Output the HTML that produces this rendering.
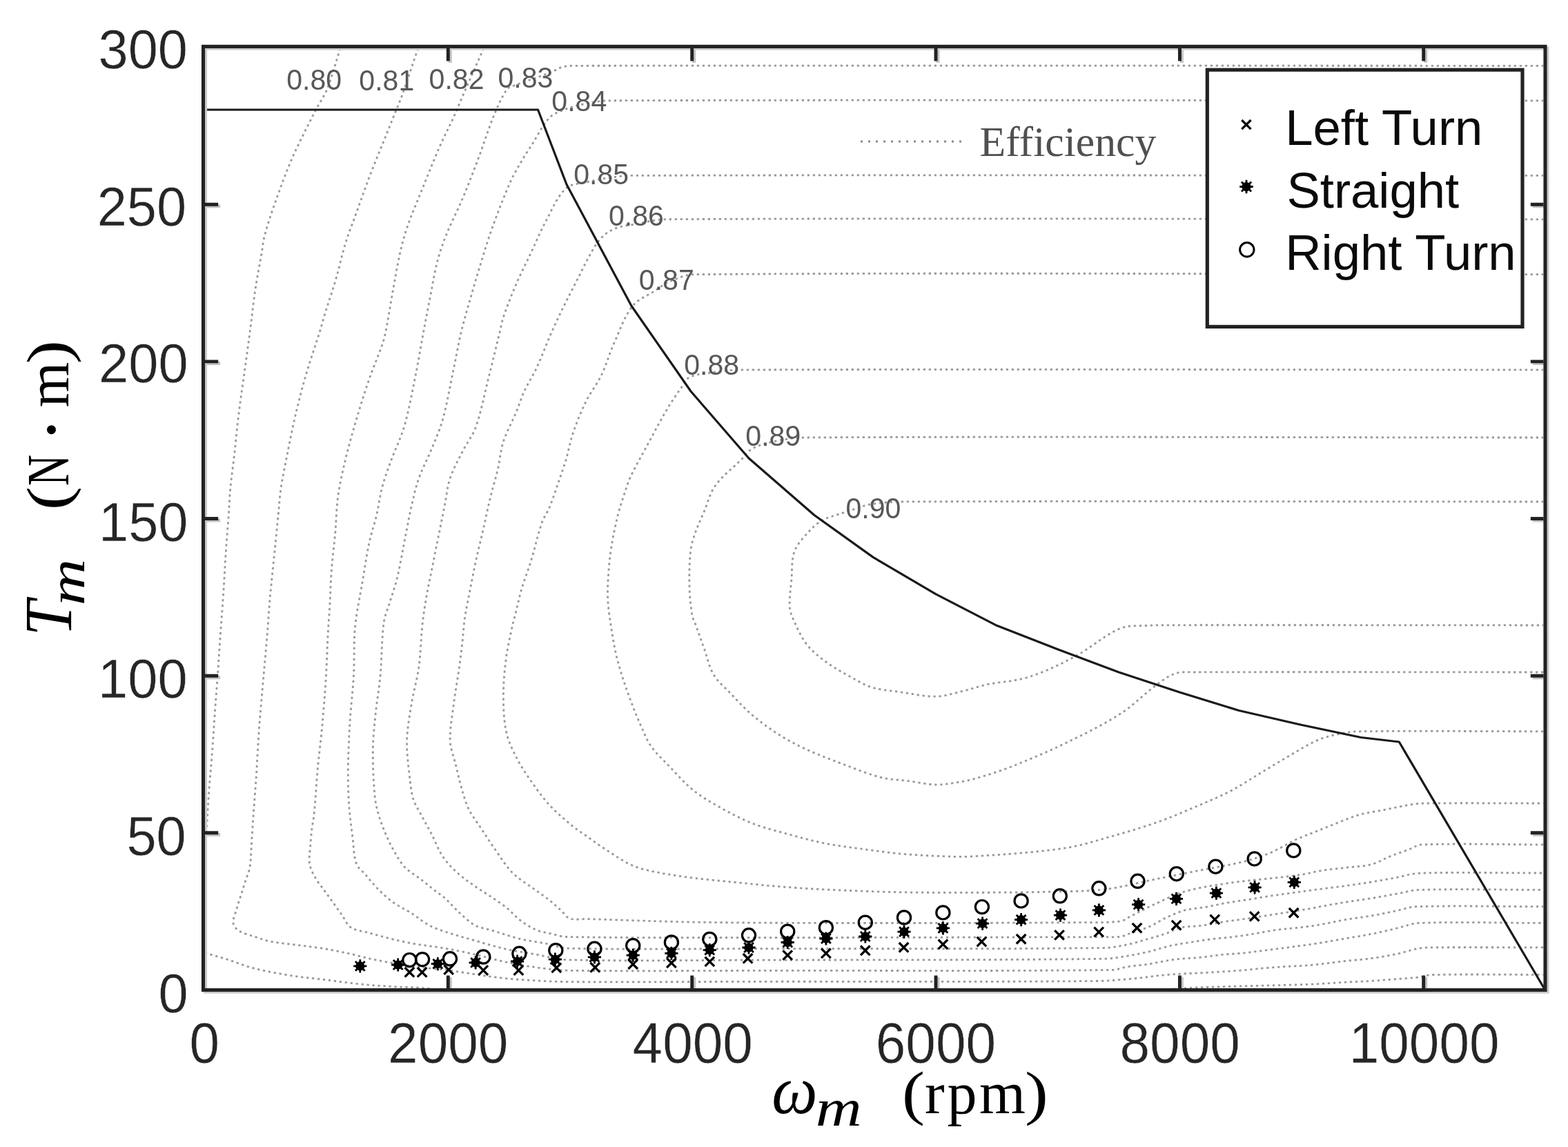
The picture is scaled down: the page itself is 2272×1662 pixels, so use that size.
<!DOCTYPE html>
<html><head><meta charset="utf-8"><title>Motor efficiency map</title>
<style>html,body{margin:0;padding:0;background:#fff;} svg{display:block;}</style>
</head><body>
<svg width="2272" height="1662" viewBox="0 0 2272 1662">
<rect x="0" y="0" width="2272" height="1662" fill="#ffffff"/>
<defs><clipPath id="plot"><rect x="297" y="70" width="1939" height="1362"/></clipPath></defs>
<g clip-path="url(#plot)" fill="none" stroke="#999999" stroke-width="2.8" stroke-dasharray="3.3 4.7">
<path d="M493.0,70.0 C486.7,89.7 481.6,109.8 474.0,129.0 C469.9,139.4 463.0,148.5 458.0,158.5 C446.0,182.2 433.6,205.7 423.0,230.0 C413.1,252.8 404.8,276.3 396.5,299.7 C391.5,313.7 387.0,327.9 383.2,342.3 C381.2,350.1 380.6,358.1 379.2,366.0 C376.1,383.8 372.6,401.6 369.9,419.5 C366.8,440.5 364.7,461.6 361.9,482.7 C359.3,502.2 356.6,521.8 353.9,541.3 C351.2,560.8 348.3,580.3 345.9,599.8 C343.4,620.2 341.6,640.7 339.3,661.1 C337.6,676.2 335.3,691.3 333.9,706.4 C332.7,719.7 332.2,733.0 331.3,746.3 C330.0,764.1 328.5,781.8 327.3,799.6 C325.8,821.8 324.8,844.0 323.3,866.2 C322.1,884.1 320.6,902.1 319.3,920.0 C317.9,940.0 316.7,959.9 315.3,979.9 C314.0,997.7 312.6,1015.4 311.3,1033.2 C309.9,1052.7 308.8,1072.2 307.3,1091.7 C306.1,1107.7 304.5,1123.7 303.3,1139.7 C302.3,1153.0 301.6,1166.3 300.7,1179.6 C299.8,1192.9 298.8,1206.3 298.0,1219.6 C297.6,1226.4 297.3,1233.2 297.0,1240.0"/>
<path d="M297.0,1380.0 C298.9,1380.8 300.8,1381.7 302.8,1382.3 C311.3,1385.0 320.0,1387.3 328.5,1390.0 C341.4,1394.1 353.9,1399.4 367.0,1402.8 C383.9,1407.1 401.2,1410.3 418.4,1413.1 C435.4,1415.9 452.6,1417.4 469.7,1419.5 C486.8,1421.6 503.9,1424.2 521.1,1425.9 C538.2,1427.6 555.3,1428.7 572.4,1429.8 C581.6,1430.4 590.8,1430.3 600.0,1430.8 C607.9,1431.2 615.9,1431.9 623.8,1432.5"/>
<path d="M1700.0,1433.0 C1713.5,1432.2 1727.1,1431.2 1740.6,1430.7 C1765.7,1429.7 1790.8,1429.2 1815.9,1428.5 C1843.9,1427.7 1872.0,1427.3 1900.0,1426.2 C1916.9,1425.5 1933.9,1424.1 1950.8,1423.2 C1962.9,1422.5 1975.0,1422.1 1987.1,1421.4 C1999.2,1420.6 2011.3,1419.6 2023.4,1418.7 C2034.3,1417.8 2045.2,1417.3 2056.1,1416.0 C2062.5,1415.2 2068.6,1412.6 2075.0,1412.5 C2129.0,1411.4 2183.0,1412.4 2237.0,1412.3"/>
<path d="M606.0,70.0 C605.4,71.5 604.7,73.0 604.2,74.6 C597.1,95.4 590.4,116.3 583.0,137.0 C579.8,146.1 575.9,154.9 572.3,163.9 C567.0,177.2 561.6,190.5 556.3,203.8 C549.2,221.5 541.8,239.1 535.0,257.0 C527.6,276.5 520.8,296.1 513.7,315.7 C509.2,328.1 504.2,340.4 500.4,353.0 C495.3,369.7 491.9,386.8 487.0,403.5 C482.1,420.5 476.2,437.1 471.0,454.0 C468.2,463.1 465.9,472.3 463.1,481.3 C456.6,502.2 449.2,522.9 443.1,543.9 C437.7,562.4 433.0,581.1 428.5,599.8 C424.5,616.6 421.2,633.5 417.8,650.4 C414.1,669.0 410.1,687.6 407.2,706.4 C405.2,719.6 404.5,733.0 403.2,746.3 C401.4,764.1 399.7,781.8 397.9,799.6 C395.7,821.8 393.2,844.0 391.2,866.2 C389.6,884.1 388.7,902.1 387.2,920.0 C385.6,940.0 383.6,959.9 381.9,979.9 C379.6,1006.5 377.1,1033.1 375.2,1059.8 C373.6,1082.0 372.7,1104.2 371.2,1126.4 C370.0,1144.1 368.5,1161.9 367.2,1179.6 C366.3,1192.9 365.5,1206.3 364.6,1219.6 C363.7,1232.0 363.9,1244.6 361.9,1256.9 C360.8,1263.8 357.6,1270.3 355.5,1277.0 C353.3,1283.9 351.2,1290.7 349.0,1297.6 C346.9,1304.4 344.5,1311.2 342.6,1318.1 C340.8,1324.7 337.1,1331.2 338.0,1338.0 C338.6,1342.6 342.6,1346.4 346.5,1348.9 C352.6,1352.8 360.1,1354.3 367.0,1356.6 C375.5,1359.4 383.9,1362.6 392.7,1364.3 C405.4,1366.8 418.4,1367.7 431.2,1369.4 C444.0,1371.1 456.9,1372.5 469.7,1374.6 C482.6,1376.8 495.4,1379.5 508.2,1382.3 C516.8,1384.2 525.3,1386.8 533.9,1388.7 C542.4,1390.6 551.0,1392.2 559.6,1393.8 C573.0,1396.2 586.5,1398.9 600.0,1400.7 C614.7,1402.7 629.6,1403.4 644.3,1405.1 C651.7,1406.0 659.0,1407.3 666.4,1408.4 C681.2,1410.6 695.9,1413.2 710.7,1415.1 C725.4,1416.9 740.1,1418.5 754.9,1419.5 C777.0,1421.0 799.1,1422.4 821.3,1422.6 C914.2,1423.4 1007.1,1422.4 1100.0,1422.3 C1263.3,1422.1 1426.7,1423.0 1590.0,1421.5 C1610.2,1421.3 1630.2,1419.0 1650.3,1417.2 C1660.4,1416.3 1670.3,1414.4 1680.4,1413.4 C1690.4,1412.4 1700.5,1411.8 1710.5,1411.2 C1725.6,1410.3 1740.6,1409.8 1755.7,1408.9 C1770.7,1408.0 1785.8,1407.1 1800.8,1405.9 C1810.9,1405.1 1820.9,1403.8 1830.9,1402.9 C1840.9,1402.0 1851.0,1401.3 1861.0,1400.6 C1874.0,1399.8 1887.0,1399.6 1900.0,1398.4 C1917.0,1396.8 1933.9,1394.3 1950.8,1392.4 C1962.9,1391.1 1975.1,1390.4 1987.1,1388.7 C1999.3,1387.0 2011.4,1384.9 2023.4,1382.4 C2034.4,1380.1 2045.0,1376.2 2056.1,1374.2 C2062.3,1373.1 2068.7,1372.9 2075.0,1372.9 C2129.0,1372.5 2183.0,1372.9 2237.0,1372.9"/>
<path d="M701.0,70.0 C700.3,71.5 699.5,73.0 698.8,74.6 C690.3,93.7 681.9,112.8 673.5,131.9 C668.1,144.3 663.1,156.9 657.5,169.2 C650.6,184.4 642.9,199.2 636.2,214.5 C627.8,233.8 620.1,253.5 612.2,273.0 C605.0,290.7 597.4,308.3 591.0,326.3 C586.7,338.5 583.2,351.0 580.3,363.6 C576.1,382.1 573.0,400.8 569.6,419.5 C565.9,439.6 563.0,459.9 559.0,480.0 C557.7,486.8 555.9,493.5 553.6,500.0 C547.9,516.6 540.7,532.6 535.0,549.2 C528.3,568.6 522.2,588.1 516.4,607.8 C510.7,627.2 505.1,646.7 500.4,666.4 C496.2,684.0 492.2,701.7 489.7,719.7 C487.3,737.3 487.2,755.2 485.7,772.9 C484.1,790.7 481.7,808.4 480.4,826.2 C479.1,843.9 478.7,861.7 477.7,879.5 C476.9,893.0 475.8,906.5 475.1,920.0 C474.0,940.0 473.6,960.0 472.4,979.9 C471.0,1003.0 469.2,1026.1 467.1,1049.1 C465.2,1070.4 462.4,1091.7 460.4,1113.0 C458.4,1135.2 457.3,1157.4 455.1,1179.6 C454.4,1187.3 452.6,1194.9 451.7,1202.6 C450.8,1210.0 450.3,1217.5 449.8,1224.9 C449.2,1233.7 447.2,1242.6 448.5,1251.3 C449.6,1258.6 453.3,1265.4 456.9,1271.9 C460.4,1278.4 465.4,1283.9 469.7,1289.9 C474.0,1295.9 478.3,1301.8 482.6,1307.8 C486.9,1313.8 491.1,1319.8 495.4,1325.8 C499.7,1331.8 502.1,1339.7 508.2,1343.8 C515.6,1348.8 525.3,1349.1 533.9,1351.5 C546.7,1355.1 559.5,1358.6 572.4,1361.7 C581.5,1363.9 590.7,1365.9 600.0,1367.5 C614.7,1370.0 629.6,1371.5 644.3,1374.1 C659.1,1376.7 673.8,1379.7 688.5,1383.0 C703.3,1386.3 717.9,1390.8 732.8,1394.0 C747.5,1397.1 762.2,1399.8 777.1,1401.8 C791.8,1403.8 806.5,1406.0 821.3,1406.2 C914.2,1407.5 1007.1,1406.5 1100.0,1406.4 C1270.0,1406.2 1440.0,1407.3 1610.0,1405.5 C1618.6,1405.4 1626.8,1401.9 1635.3,1400.6 C1645.3,1399.0 1655.4,1398.4 1665.4,1396.9 C1670.4,1396.2 1675.4,1394.8 1680.4,1393.9 C1687.9,1392.5 1695.4,1391.0 1703.0,1390.1 C1715.5,1388.7 1728.1,1388.4 1740.6,1387.1 C1750.7,1386.1 1760.6,1384.3 1770.7,1383.3 C1780.7,1382.3 1790.8,1382.1 1800.8,1381.1 C1810.9,1380.1 1820.9,1378.6 1830.9,1377.3 C1840.9,1376.0 1851.0,1374.8 1861.0,1373.5 C1874.0,1371.8 1887.0,1370.1 1900.0,1368.3 C1904.8,1367.6 1909.7,1366.8 1914.5,1366.0 C1926.6,1364.0 1938.7,1361.8 1950.8,1359.7 C1962.9,1357.6 1975.1,1355.7 1987.1,1353.3 C1999.3,1350.9 2011.3,1348.0 2023.4,1345.2 C2034.3,1342.7 2044.9,1337.9 2056.1,1337.5 C2116.4,1335.3 2176.7,1337.5 2237.0,1337.5"/>
<path d="M2237.0,95.3 C1768.0,95.3 1299.0,94.7 830.0,95.3 C825.0,95.3 819.8,95.6 815.0,97.0 C809.7,98.5 805.1,102.0 800.0,104.0 C790.1,108.0 780.0,111.4 770.0,115.0 C761.7,118.0 753.2,120.7 745.0,124.0 C741.4,125.4 736.9,126.0 734.7,129.2 C726.9,140.7 721.3,153.7 716.0,166.5 C708.0,185.6 702.1,205.6 694.8,225.0 C687.0,245.6 679.3,266.1 670.8,286.4 C663.3,304.3 654.1,321.6 646.9,339.6 C641.7,352.7 637.0,366.0 633.5,379.6 C629.0,397.1 626.4,415.1 622.9,432.8 C619.7,449.0 616.6,465.1 613.6,481.3 C609.5,503.1 606.0,524.9 601.6,546.6 C596.7,570.7 592.4,594.9 585.6,618.5 C580.8,635.0 572.9,650.3 567.0,666.4 C562.2,679.6 557.2,692.8 553.6,706.4 C550.1,719.5 548.8,733.1 545.7,746.3 C542.6,759.7 537.8,772.8 535.0,786.3 C530.7,806.6 528.0,827.1 524.4,847.5 C521.8,862.6 518.6,877.6 516.4,892.8 C515.1,901.8 514.1,910.9 513.7,920.0 C512.8,940.0 513.5,960.0 512.4,979.9 C511.2,1002.1 508.3,1024.3 507.0,1046.5 C505.7,1068.6 504.6,1090.8 504.4,1113.0 C504.2,1130.8 504.5,1148.6 505.7,1166.3 C506.7,1182.3 509.0,1198.3 511.0,1214.2 C512.6,1226.7 512.2,1239.6 516.4,1251.5 C518.7,1258.0 525.2,1262.2 529.7,1267.5 C535.8,1274.7 541.6,1282.1 548.3,1288.8 C555.0,1295.5 561.9,1302.0 569.6,1307.5 C578.0,1313.6 587.6,1317.8 596.3,1323.4 C605.1,1329.0 613.0,1335.9 622.1,1340.9 C629.1,1344.7 636.7,1347.3 644.3,1349.8 C658.9,1354.7 673.7,1358.8 688.5,1363.0 C703.2,1367.2 717.9,1371.8 732.8,1375.2 C747.4,1378.5 762.3,1380.4 777.1,1383.0 C791.8,1385.6 806.3,1390.3 821.3,1390.7 C914.2,1393.0 1007.1,1391.3 1100.0,1391.1 C1266.7,1390.8 1433.3,1391.3 1600.0,1389.3 C1611.9,1389.2 1623.6,1386.7 1635.3,1384.8 C1645.4,1383.2 1655.4,1381.2 1665.4,1378.8 C1675.5,1376.4 1685.3,1372.8 1695.5,1370.5 C1705.4,1368.3 1715.6,1366.9 1725.6,1365.3 C1735.6,1363.7 1745.6,1362.0 1755.7,1360.7 C1765.7,1359.4 1775.8,1358.9 1785.8,1357.7 C1795.9,1356.4 1805.9,1354.8 1815.9,1353.2 C1826.0,1351.6 1835.9,1349.3 1846.0,1347.9 C1863.9,1345.5 1882.1,1344.5 1900.0,1341.9 C1917.0,1339.4 1933.8,1335.3 1950.8,1332.4 C1962.9,1330.3 1975.0,1329.1 1987.1,1327.0 C1999.3,1324.9 2011.3,1322.2 2023.4,1319.7 C2033.1,1317.7 2042.5,1314.0 2052.4,1313.7 C2113.9,1312.0 2175.5,1313.7 2237.0,1313.7"/>
<path d="M2237.0,145.8 C1784.7,145.8 1332.3,144.4 880.0,145.8 C869.9,145.8 859.9,148.0 850.0,150.0 C839.9,152.1 829.7,154.3 820.0,158.0 C811.6,161.2 802.3,164.1 796.2,170.6 C785.0,182.5 778.3,198.1 769.4,211.8 C766.3,216.6 762.9,221.3 760.0,226.3 C754.0,236.4 747.9,246.4 742.7,257.0 C736.7,269.2 731.7,281.8 726.7,294.4 C721.1,308.5 715.7,322.7 710.8,337.0 C705.1,353.7 700.0,370.7 694.8,387.6 C690.2,402.6 685.8,417.7 681.5,432.8 C676.9,448.9 672.1,465.0 668.2,481.3 C664.1,498.5 661.2,516.0 657.5,533.3 C652.3,558.2 648.2,583.3 641.5,607.8 C637.5,622.4 631.2,636.3 625.5,650.4 C619.7,664.8 612.1,678.4 606.9,693.0 C602.3,706.0 599.4,719.6 596.3,733.0 C593.2,746.2 591.0,759.6 588.3,772.9 C583.9,795.1 580.2,817.5 575.0,839.5 C572.2,851.2 567.8,862.5 564.3,874.1 C561.4,883.6 557.2,892.9 556.0,902.7 C552.8,928.3 553.3,954.2 551.0,979.9 C549.4,997.7 546.1,1015.4 544.3,1033.2 C542.5,1050.9 540.5,1068.6 540.3,1086.4 C540.1,1108.6 541.1,1130.9 543.0,1153.0 C543.8,1162.0 545.8,1170.9 548.3,1179.6 C551.2,1189.6 554.9,1199.3 559.0,1208.9 C562.9,1218.0 567.3,1226.9 572.3,1235.5 C576.7,1243.0 581.0,1250.8 587.0,1257.0 C593.6,1263.8 602.1,1268.2 609.6,1274.0 C616.8,1279.6 623.8,1285.5 631.0,1291.1 C635.4,1294.5 640.2,1297.4 644.3,1301.1 C652.0,1308.1 658.7,1316.2 666.4,1323.2 C673.4,1329.5 680.2,1336.4 688.5,1340.9 C695.3,1344.6 703.3,1345.3 710.7,1347.5 C725.4,1351.9 740.0,1357.2 754.9,1360.8 C767.3,1363.8 780.1,1365.0 792.6,1367.5 C802.2,1369.4 811.5,1373.9 821.3,1374.1 C914.2,1376.2 1007.1,1374.7 1100.0,1374.6 C1266.7,1374.5 1433.3,1375.5 1600.0,1373.5 C1611.9,1373.4 1623.6,1370.6 1635.3,1368.3 C1642.9,1366.8 1650.3,1364.3 1657.8,1362.2 C1667.9,1359.3 1678.1,1356.6 1688.0,1353.2 C1695.6,1350.6 1702.6,1346.0 1710.5,1344.2 C1720.3,1342.0 1730.6,1342.6 1740.6,1341.2 C1752.7,1339.6 1764.6,1337.0 1776.7,1335.2 C1787.7,1333.5 1798.9,1332.3 1809.9,1330.6 C1840.0,1326.0 1870.0,1321.2 1900.0,1316.3 C1904.9,1315.5 1909.7,1314.3 1914.5,1313.4 C1926.6,1311.2 1938.7,1309.0 1950.8,1307.0 C1962.9,1305.0 1975.0,1303.6 1987.1,1301.6 C1999.2,1299.6 2011.3,1297.3 2023.4,1295.2 C2034.3,1293.3 2045.0,1289.7 2056.1,1289.4 C2116.4,1287.8 2176.7,1289.4 2237.0,1289.4"/>
<path d="M2237.0,254.4 C1796.3,254.4 1355.7,253.2 915.0,254.4 C903.3,254.4 891.6,256.3 880.0,258.0 C869.9,259.5 859.9,261.5 850.0,264.0 C839.9,266.5 827.5,265.8 820.0,273.0 C806.5,286.0 799.6,304.5 790.7,321.0 C782.7,335.7 776.5,351.2 769.4,366.3 C762.3,381.4 754.6,396.2 748.0,411.5 C741.2,427.3 735.0,443.3 729.4,459.5 C727.0,466.6 725.9,474.0 724.1,481.3 C718.8,503.1 713.6,524.9 708.1,546.6 C702.0,570.6 697.7,595.1 689.5,618.5 C685.2,630.9 676.7,641.4 670.8,653.1 C664.2,666.2 656.8,679.1 652.2,693.0 C647.9,705.9 646.9,719.7 644.2,733.0 C641.5,746.3 638.9,759.6 636.2,772.9 C632.6,790.7 629.0,808.4 625.5,826.2 C622.8,839.5 619.9,852.8 617.6,866.2 C615.4,879.1 613.4,892.0 612.0,905.0 C609.8,925.5 609.7,946.2 606.9,966.6 C604.4,984.5 599.2,1002.0 596.3,1019.8 C593.4,1037.5 590.1,1055.2 589.6,1073.1 C589.1,1090.9 591.7,1108.7 593.6,1126.4 C594.8,1137.1 595.8,1148.0 598.9,1158.3 C601.2,1165.9 605.9,1172.6 609.6,1179.6 C614.8,1189.4 620.4,1199.0 625.5,1208.9 C631.0,1219.5 634.9,1231.0 641.5,1240.9 C647.4,1249.8 654.9,1257.6 662.8,1264.8 C671.0,1272.4 680.4,1278.5 689.5,1285.0 C696.4,1289.9 703.7,1294.2 710.7,1298.9 C718.1,1303.9 725.8,1308.7 732.8,1314.3 C740.6,1320.5 746.9,1328.3 754.9,1334.3 C761.8,1339.5 769.2,1344.1 777.1,1347.5 C784.1,1350.5 791.8,1351.4 799.2,1353.1 C806.5,1354.8 813.8,1357.4 821.3,1357.5 C914.2,1359.2 1007.1,1358.6 1100.0,1358.6 C1266.7,1358.6 1433.3,1358.1 1600.0,1357.7 C1607.7,1357.7 1615.4,1358.3 1623.0,1357.3 C1627.3,1356.8 1631.2,1354.6 1635.3,1353.2 C1645.3,1349.7 1655.6,1346.9 1665.4,1342.7 C1673.3,1339.3 1680.4,1334.4 1688.0,1330.6 C1692.9,1328.2 1697.9,1325.9 1703.0,1323.9 C1707.9,1321.9 1712.8,1319.7 1718.0,1318.6 C1727.9,1316.4 1738.1,1315.8 1748.1,1314.1 C1758.2,1312.3 1768.1,1309.9 1778.2,1308.1 C1788.2,1306.3 1798.3,1305.1 1808.3,1303.5 C1820.9,1301.5 1833.4,1299.4 1846.0,1297.5 C1864.0,1294.9 1882.0,1292.4 1900.0,1290.0 C1916.9,1287.7 1933.9,1285.7 1950.8,1283.4 C1962.9,1281.7 1975.0,1280.0 1987.1,1278.0 C1999.2,1276.0 2011.3,1273.8 2023.4,1271.6 C2034.3,1269.6 2045.0,1265.6 2056.1,1265.3 C2116.4,1263.4 2176.7,1265.1 2237.0,1265.0"/>
<path d="M2237.0,317.8 C1812.3,317.8 1387.7,315.5 963.0,317.8 C948.5,317.9 934.3,322.5 920.0,325.0 C912.2,326.4 904.1,326.8 896.6,329.3 C889.5,331.7 882.3,334.8 876.6,339.6 C869.9,345.2 864.7,352.5 860.2,359.9 C851.1,374.8 844.0,390.7 836.0,406.2 C829.1,419.5 822.3,432.8 815.7,446.2 C809.8,458.3 804.1,470.4 798.7,482.7 C791.3,499.5 785.1,516.7 777.4,533.3 C772.2,544.5 765.2,554.8 760.0,566.0 C755.3,576.1 752.3,586.9 748.0,597.2 C742.1,611.5 734.2,625.1 729.4,639.8 C725.2,652.7 724.5,666.5 721.4,679.7 C718.3,693.1 714.0,706.3 710.8,719.7 C706.9,735.6 703.7,751.7 700.1,767.6 C696.6,782.7 692.8,797.7 689.5,812.9 C686.6,826.2 684.1,839.5 681.5,852.8 C678.7,867.0 675.6,881.1 673.5,895.4 C671.8,906.9 671.3,918.5 670.0,930.0 C668.6,942.2 667.2,954.4 665.5,966.6 C663.0,984.4 659.7,1002.0 657.5,1019.8 C655.3,1037.5 651.7,1055.3 652.2,1073.1 C652.6,1084.9 657.4,1096.2 660.2,1107.7 C662.8,1118.4 665.1,1129.1 668.2,1139.7 C671.3,1150.5 674.0,1161.5 678.8,1171.6 C683.8,1182.1 691.2,1191.2 697.5,1200.9 C704.5,1211.6 711.4,1222.4 718.8,1232.9 C726.5,1243.7 733.3,1255.4 742.7,1264.8 C752.1,1274.2 764.0,1280.9 774.7,1288.8 C781.3,1293.7 788.3,1298.2 794.8,1303.3 C800.9,1308.2 806.7,1313.6 812.5,1318.8 C817.0,1322.8 820.1,1329.1 825.8,1331.0 C833.4,1333.6 841.9,1331.4 850.0,1331.6 C903.3,1333.1 956.5,1335.4 1009.8,1336.2 C1080.8,1337.3 1151.8,1337.4 1222.8,1337.5 C1335.2,1337.6 1447.6,1337.4 1560.0,1336.7 C1581.0,1336.6 1602.1,1337.3 1623.0,1335.0 C1628.1,1334.5 1632.2,1330.7 1636.8,1328.4 C1648.4,1322.7 1659.7,1316.4 1671.4,1311.0 C1685.8,1304.4 1699.8,1296.7 1715.0,1292.3 C1735.7,1286.3 1757.1,1283.0 1778.4,1279.8 C1805.5,1275.8 1832.8,1273.9 1860.0,1270.7 C1869.1,1269.6 1878.2,1268.6 1887.2,1267.1 C1896.4,1265.6 1905.3,1263.0 1914.5,1261.6 C1926.5,1259.7 1938.7,1258.6 1950.8,1257.1 C1962.9,1255.6 1975.3,1255.6 1987.1,1252.6 C1996.7,1250.1 2005.1,1244.5 2014.3,1240.8 C2023.3,1237.2 2032.5,1234.2 2041.6,1230.8 C2047.7,1228.5 2053.2,1224.1 2059.7,1223.9 C2118.8,1221.8 2177.9,1223.9 2237.0,1223.9"/>
<path d="M2237.0,397.7 C1826.7,397.7 1416.3,394.4 1006.0,397.7 C993.5,397.8 981.5,403.2 970.0,408.0 C962.4,411.1 956.1,416.7 949.3,421.2 C938.3,428.5 924.7,433.1 916.6,443.5 C904.4,459.1 898.2,478.6 890.0,496.7 C883.1,512.1 878.7,528.5 871.4,543.7 C865.1,556.8 855.7,568.2 849.3,581.2 C842.1,595.9 835.9,611.1 830.6,626.5 C826.1,639.5 823.9,653.2 820.0,666.4 C816.8,677.2 813.0,687.8 809.3,698.4 C805.0,710.9 801.0,723.5 796.0,735.7 C793.0,743.1 787.9,749.5 785.3,757.0 C779.0,775.3 775.1,794.4 769.4,812.9 C765.3,826.3 759.9,839.3 756.0,852.8 C751.9,866.9 749.0,881.2 745.4,895.4 C744.6,898.7 743.4,902.0 742.7,905.3 C739.4,921.3 735.5,937.1 733.4,953.3 C731.1,970.9 729.4,988.7 729.4,1006.5 C729.4,1024.3 729.8,1042.3 733.4,1059.8 C736.1,1072.9 742.0,1085.2 748.0,1097.1 C754.1,1109.2 761.7,1120.6 769.4,1131.7 C777.7,1143.7 786.2,1155.6 796.0,1166.3 C805.7,1176.9 816.8,1186.3 827.9,1195.6 C834.9,1201.4 842.6,1206.3 850.0,1211.6 C858.8,1217.9 867.5,1224.4 876.6,1230.2 C889.7,1238.6 902.3,1248.0 916.6,1254.2 C929.2,1259.7 943.0,1262.1 956.5,1264.8 C974.1,1268.3 992.0,1270.6 1009.8,1272.8 C1027.5,1275.0 1045.3,1276.4 1063.0,1278.2 C1080.8,1280.0 1098.5,1281.9 1116.3,1283.5 C1134.0,1285.0 1151.8,1286.4 1169.6,1287.5 C1187.3,1288.6 1205.1,1289.4 1222.8,1290.1 C1249.4,1291.2 1276.1,1292.3 1302.7,1292.8 C1338.5,1293.4 1374.2,1293.4 1410.0,1293.3 C1445.5,1293.2 1481.0,1293.2 1516.5,1292.3 C1544.8,1291.6 1573.2,1291.8 1601.3,1288.6 C1623.7,1286.1 1645.6,1279.7 1667.7,1275.3 C1689.8,1270.9 1712.0,1266.4 1734.1,1262.0 C1756.2,1257.6 1778.6,1254.2 1800.5,1248.8 C1813.9,1245.5 1827.2,1241.3 1840.0,1236.0 C1853.2,1230.5 1865.3,1222.5 1878.2,1216.3 C1884.1,1213.5 1890.3,1211.4 1896.3,1209.0 C1908.4,1204.2 1920.5,1199.2 1932.6,1194.5 C1944.7,1189.8 1956.5,1184.4 1968.9,1180.8 C1980.8,1177.4 1993.1,1176.0 2005.2,1173.6 C2017.3,1171.2 2029.4,1168.4 2041.6,1166.3 C2047.6,1165.3 2053.6,1164.2 2059.7,1164.1 C2118.8,1163.4 2177.9,1164.0 2237.0,1164.0"/>
<path d="M2237.0,535.9 C1849.7,535.9 1462.3,534.6 1075.0,535.9 C1059.9,536.0 1044.9,537.9 1030.0,540.0 C1019.6,541.5 1008.6,542.0 999.1,546.6 C994.0,549.1 991.8,555.3 988.5,559.9 C981.1,570.4 973.7,580.9 967.2,591.9 C956.9,609.3 947.5,627.3 937.9,645.1 C929.8,660.1 921.1,674.9 913.9,690.4 C909.5,699.8 906.6,709.8 903.3,719.7 C900.4,728.5 897.5,737.3 895.3,746.3 C891.7,761.3 888.5,776.4 886.0,791.6 C884.1,803.1 882.8,814.6 882.0,826.2 C881.0,839.5 880.1,852.9 880.6,866.2 C881.0,878.4 882.8,890.6 884.6,902.7 C886.8,917.8 889.2,933.0 892.6,947.9 C895.5,960.5 899.3,972.9 903.3,985.2 C907.3,997.8 911.9,1010.2 916.6,1022.5 C920.7,1033.3 925.1,1044.0 929.9,1054.5 C934.0,1063.5 937.4,1073.0 943.2,1081.1 C950.9,1091.8 960.7,1100.9 969.8,1110.4 C981.1,1122.2 991.8,1134.7 1004.5,1145.0 C1015.9,1154.3 1028.8,1161.8 1041.7,1169.0 C1057.3,1177.8 1073.1,1186.3 1089.7,1192.9 C1106.9,1199.7 1125.0,1204.0 1142.9,1208.9 C1160.6,1213.8 1178.2,1218.6 1196.2,1222.2 C1213.8,1225.7 1231.7,1227.7 1249.5,1230.2 C1267.2,1232.6 1284.9,1235.2 1302.7,1236.9 C1320.4,1238.6 1338.2,1239.6 1356.0,1240.3 C1374.0,1241.0 1392.0,1242.0 1410.0,1240.9 C1454.5,1238.2 1499.1,1235.3 1543.2,1228.9 C1565.9,1225.6 1587.9,1218.2 1610.0,1212.0 C1632.3,1205.8 1654.5,1199.2 1676.3,1191.6 C1694.5,1185.2 1712.2,1177.6 1730.0,1170.0 C1747.8,1162.4 1765.6,1155.1 1782.8,1146.3 C1796.9,1139.1 1810.0,1130.0 1823.6,1121.9 C1838.1,1113.2 1852.5,1104.2 1867.2,1095.7 C1881.5,1087.5 1895.5,1078.3 1910.7,1071.8 C1921.1,1067.3 1932.4,1065.3 1943.4,1063.0 C1951.3,1061.3 1959.3,1059.9 1967.4,1059.8 C2057.3,1058.8 2147.1,1059.8 2237.0,1059.8"/>
<path d="M2237.0,634.0 C1879.7,634.0 1522.3,632.1 1165.0,634.0 C1149.9,634.1 1134.8,636.8 1120.0,640.0 C1109.6,642.3 1099.0,645.1 1089.7,650.4 C1083.1,654.1 1079.0,661.1 1073.7,666.4 C1061.3,678.8 1046.6,689.4 1036.4,703.7 C1028.5,714.7 1025.7,728.5 1020.4,741.0 C1015.9,751.6 1010.8,762.0 1007.1,772.9 C1004.2,781.6 1001.4,790.5 1000.5,799.6 C998.7,817.3 998.6,835.1 999.1,852.8 C999.5,866.2 1001.0,879.6 1003.1,892.8 C1003.7,896.3 1005.9,899.4 1007.1,902.7 C1011.6,915.1 1015.9,927.6 1020.4,940.0 C1024.8,952.4 1027.2,965.8 1033.8,977.2 C1039.8,987.5 1049.5,995.3 1057.7,1003.9 C1068.1,1014.8 1078.2,1026.0 1089.7,1035.8 C1102.3,1046.5 1115.7,1056.3 1129.6,1065.1 C1142.4,1073.2 1155.9,1080.1 1169.6,1086.4 C1187.0,1094.3 1204.9,1101.0 1222.8,1107.7 C1240.4,1114.3 1257.9,1121.7 1276.1,1126.4 C1289.1,1129.7 1302.7,1129.9 1316.0,1131.7 C1329.3,1133.5 1342.6,1136.5 1356.0,1137.0 C1364.9,1137.4 1373.8,1135.7 1382.6,1134.4 C1391.8,1133.0 1401.0,1131.5 1410.0,1129.0 C1428.0,1123.9 1445.9,1118.5 1463.3,1111.7 C1490.3,1101.2 1517.1,1089.7 1543.2,1077.1 C1570.3,1064.0 1597.6,1050.8 1623.0,1034.5 C1642.2,1022.2 1658.0,1005.4 1676.3,991.9 C1684.6,985.8 1693.1,979.2 1702.9,975.9 C1711.5,973.0 1720.9,974.0 1730.0,974.0 C1899.0,973.4 2068.0,974.0 2237.0,974.0"/>
<path d="M2237.0,727.0 C1926.3,727.0 1615.7,725.7 1305.0,727.0 C1289.9,727.1 1274.9,728.7 1260.0,731.0 C1253.1,732.1 1246.6,734.9 1240.0,737.0 C1233.4,739.1 1226.8,741.3 1220.2,743.6 C1210.4,747.1 1199.9,749.1 1190.9,754.3 C1182.7,759.0 1175.8,765.8 1169.6,772.9 C1162.4,781.0 1154.4,789.3 1150.9,799.6 C1146.6,812.3 1148.0,826.2 1146.9,839.5 C1145.8,852.8 1143.4,866.2 1144.3,879.5 C1144.8,886.9 1147.8,894.0 1150.9,900.8 C1156.3,912.5 1161.7,924.5 1169.6,934.6 C1177.0,944.0 1186.6,951.5 1196.2,958.6 C1207.1,966.7 1219.0,973.3 1230.8,979.9 C1241.2,985.7 1251.4,992.3 1262.8,995.9 C1275.7,999.9 1289.4,1000.6 1302.7,1002.5 C1320.4,1005.0 1338.1,1009.4 1356.0,1009.2 C1369.6,1009.0 1382.7,1004.3 1395.9,1001.2 C1407.4,998.5 1418.5,994.4 1430.0,991.9 C1449.8,987.7 1470.6,987.3 1489.9,981.2 C1513.0,973.9 1535.1,963.3 1556.5,951.9 C1579.6,939.7 1599.1,921.1 1623.0,910.6 C1634.4,905.6 1647.6,907.2 1660.0,906.5 C1674.3,905.6 1688.6,905.8 1702.9,905.8 C1880.9,905.6 2059.0,905.9 2237.0,906.0"/>
</g>
<line x1="1247" y1="205" x2="1399" y2="205" stroke="#8a8a8a" stroke-width="3" stroke-dasharray="3 8"/>
<text transform="translate(415.16,129.70) scale(0.9550,1)" font-family='"Liberation Sans", Arial, sans-serif' font-size="43" style="" fill="#585858" >0.80</text>
<text transform="translate(520.36,130.50) scale(0.9550,1)" font-family='"Liberation Sans", Arial, sans-serif' font-size="43" style="" fill="#585858" >0.81</text>
<text transform="translate(621.56,128.90) scale(0.9550,1)" font-family='"Liberation Sans", Arial, sans-serif' font-size="43" style="" fill="#585858" >0.82</text>
<text transform="translate(721.46,127.00) scale(0.9550,1)" font-family='"Liberation Sans", Arial, sans-serif' font-size="43" style="" fill="#585858" >0.83</text>
<text transform="translate(799.36,160.80) scale(0.9550,1)" font-family='"Liberation Sans", Arial, sans-serif' font-size="43" style="" fill="#585858" >0.84</text>
<text transform="translate(831.16,267.00) scale(0.9550,1)" font-family='"Liberation Sans", Arial, sans-serif' font-size="43" style="" fill="#585858" >0.85</text>
<text transform="translate(881.96,326.70) scale(0.9550,1)" font-family='"Liberation Sans", Arial, sans-serif' font-size="43" style="" fill="#585858" >0.86</text>
<text transform="translate(925.86,420.00) scale(0.9550,1)" font-family='"Liberation Sans", Arial, sans-serif' font-size="43" style="" fill="#585858" >0.87</text>
<text transform="translate(991.16,543.00) scale(0.9550,1)" font-family='"Liberation Sans", Arial, sans-serif' font-size="43" style="" fill="#585858" >0.88</text>
<text transform="translate(1080.36,645.50) scale(0.9550,1)" font-family='"Liberation Sans", Arial, sans-serif' font-size="43" style="" fill="#585858" >0.89</text>
<text transform="translate(1225.46,750.70) scale(0.9550,1)" font-family='"Liberation Sans", Arial, sans-serif' font-size="43" style="" fill="#585858" >0.90</text>
<text transform="translate(1419.45,226.30) scale(1.0120,1)" font-family='"Liberation Serif", "Times New Roman", serif' font-size="61" style="" fill="#505050" >Efficiency</text>
<polyline fill="none" stroke="#1a1a1a" stroke-width="3.2" stroke-linejoin="round" points="296.0,159.0 779.5,159.0 821.0,267.3 914.8,443.0 1001.0,567.0 1085.0,664.0 1180.0,746.5 1265.4,807.6 1356.0,860.8 1444.6,906.6 1533.0,941.0 1621.0,974.0 1709.0,1003.0 1795.0,1029.5 1884.0,1050.0 1971.8,1068.5 2027.3,1075.0 2239.4,1435.5"/>
<g>
<path d="M586.6,1402.0 L600.2,1415.6 M586.6,1415.6 L600.2,1402.0" stroke="#000" stroke-width="3.25" fill="none"/>
<path d="M604.8,1402.0 L618.4,1415.6 M604.8,1415.6 L618.4,1402.0" stroke="#000" stroke-width="3.25" fill="none"/>
<path d="M643.3,1398.3 L656.9,1411.9 M643.3,1411.9 L656.9,1398.3" stroke="#000" stroke-width="3.25" fill="none"/>
<path d="M693.5,1399.2 L707.1,1412.8 M693.5,1412.8 L707.1,1399.2" stroke="#000" stroke-width="3.25" fill="none"/>
<path d="M744.6,1399.2 L758.2,1412.8 M744.6,1412.8 L758.2,1399.2" stroke="#000" stroke-width="3.25" fill="none"/>
<path d="M799.5,1395.5 L813.1,1409.1 M799.5,1409.1 L813.1,1395.5" stroke="#000" stroke-width="3.25" fill="none"/>
<path d="M855.5,1395.0 L869.1,1408.6 M855.5,1408.6 L869.1,1395.0" stroke="#000" stroke-width="3.25" fill="none"/>
<path d="M910.4,1390.4 L924.0,1404.0 M910.4,1404.0 L924.0,1390.4" stroke="#000" stroke-width="3.25" fill="none"/>
<path d="M966.1,1388.5 L979.7,1402.1 M966.1,1402.1 L979.7,1388.5" stroke="#000" stroke-width="3.25" fill="none"/>
<path d="M1021.5,1386.6 L1035.1,1400.2 M1021.5,1400.2 L1035.1,1386.6" stroke="#000" stroke-width="3.25" fill="none"/>
<path d="M1076.7,1382.0 L1090.3,1395.6 M1076.7,1395.6 L1090.3,1382.0" stroke="#000" stroke-width="3.25" fill="none"/>
<path d="M1134.4,1377.3 L1148.0,1390.9 M1134.4,1390.9 L1148.0,1377.3" stroke="#000" stroke-width="3.25" fill="none"/>
<path d="M1190.1,1374.5 L1203.7,1388.1 M1190.1,1388.1 L1203.7,1374.5" stroke="#000" stroke-width="3.25" fill="none"/>
<path d="M1247.0,1370.5 L1260.6,1384.1 M1247.0,1384.1 L1260.6,1370.5" stroke="#000" stroke-width="3.25" fill="none"/>
<path d="M1302.7,1366.0 L1316.3,1379.6 M1302.7,1379.6 L1316.3,1366.0" stroke="#000" stroke-width="3.25" fill="none"/>
<path d="M1359.6,1361.5 L1373.2,1375.1 M1359.6,1375.1 L1373.2,1361.5" stroke="#000" stroke-width="3.25" fill="none"/>
<path d="M1415.6,1357.7 L1429.2,1371.3 M1415.6,1371.3 L1429.2,1357.7" stroke="#000" stroke-width="3.25" fill="none"/>
<path d="M1472.8,1353.9 L1486.4,1367.5 M1472.8,1367.5 L1486.4,1353.9" stroke="#000" stroke-width="3.25" fill="none"/>
<path d="M1528.2,1348.1 L1541.8,1361.7 M1528.2,1361.7 L1541.8,1348.1" stroke="#000" stroke-width="3.25" fill="none"/>
<path d="M1585.4,1343.7 L1599.0,1357.3 M1585.4,1357.3 L1599.0,1343.7" stroke="#000" stroke-width="3.25" fill="none"/>
<path d="M1640.7,1337.9 L1654.3,1351.5 M1640.7,1351.5 L1654.3,1337.9" stroke="#000" stroke-width="3.25" fill="none"/>
<path d="M1697.8,1333.9 L1711.4,1347.5 M1697.8,1347.5 L1711.4,1333.9" stroke="#000" stroke-width="3.25" fill="none"/>
<path d="M1753.4,1325.6 L1767.0,1339.2 M1753.4,1339.2 L1767.0,1325.6" stroke="#000" stroke-width="3.25" fill="none"/>
<path d="M1810.9,1321.1 L1824.5,1334.7 M1810.9,1334.7 L1824.5,1321.1" stroke="#000" stroke-width="3.25" fill="none"/>
<path d="M1867.8,1315.9 L1881.4,1329.5 M1867.8,1329.5 L1881.4,1315.9" stroke="#000" stroke-width="3.25" fill="none"/>
<path d="M512.2,1399.9 L531.4,1399.9 M521.8,1390.3 L521.8,1409.5 M514.9,1393.0 L528.7,1406.8 M514.9,1406.8 L528.7,1393.0" stroke="#000" stroke-width="2.8" fill="none"/><circle cx="521.8" cy="1399.9" r="6.6" fill="#000"/>
<path d="M567.1,1398.0 L586.3,1398.0 M576.7,1388.4 L576.7,1407.6 M569.8,1391.1 L583.6,1404.9 M569.8,1404.9 L583.6,1391.1" stroke="#000" stroke-width="2.8" fill="none"/><circle cx="576.7" cy="1398.0" r="6.6" fill="#000"/>
<path d="M624.7,1396.7 L643.9,1396.7 M634.3,1387.1 L634.3,1406.3 M627.4,1389.8 L641.2,1403.6 M627.4,1403.6 L641.2,1389.8" stroke="#000" stroke-width="2.8" fill="none"/><circle cx="634.3" cy="1396.7" r="6.6" fill="#000"/>
<path d="M679.5,1394.8 L698.7,1394.8 M689.1,1385.2 L689.1,1404.4 M682.2,1387.9 L696.0,1401.7 M682.2,1401.7 L696.0,1387.9" stroke="#000" stroke-width="2.8" fill="none"/><circle cx="689.1" cy="1394.8" r="6.6" fill="#000"/>
<path d="M740.0,1393.0 L759.2,1393.0 M749.6,1383.4 L749.6,1402.6 M742.7,1386.1 L756.5,1399.9 M742.7,1399.9 L756.5,1386.1" stroke="#000" stroke-width="2.8" fill="none"/><circle cx="749.6" cy="1393.0" r="6.6" fill="#000"/>
<path d="M794.8,1390.2 L814.0,1390.2 M804.4,1380.6 L804.4,1399.8 M797.5,1383.3 L811.3,1397.1 M797.5,1397.1 L811.3,1383.3" stroke="#000" stroke-width="2.8" fill="none"/><circle cx="804.4" cy="1390.2" r="6.6" fill="#000"/>
<path d="M851.8,1386.9 L871.0,1386.9 M861.4,1377.3 L861.4,1396.5 M854.5,1380.0 L868.3,1393.8 M854.5,1393.8 L868.3,1380.0" stroke="#000" stroke-width="2.8" fill="none"/><circle cx="861.4" cy="1386.9" r="6.6" fill="#000"/>
<path d="M907.6,1384.1 L926.8,1384.1 M917.2,1374.5 L917.2,1393.7 M910.3,1377.2 L924.1,1391.0 M910.3,1391.0 L924.1,1377.2" stroke="#000" stroke-width="2.8" fill="none"/><circle cx="917.2" cy="1384.1" r="6.6" fill="#000"/>
<path d="M963.3,1381.3 L982.5,1381.3 M972.9,1371.7 L972.9,1390.9 M966.0,1374.4 L979.8,1388.2 M966.0,1388.2 L979.8,1374.4" stroke="#000" stroke-width="2.8" fill="none"/><circle cx="972.9" cy="1381.3" r="6.6" fill="#000"/>
<path d="M1018.7,1376.7 L1037.9,1376.7 M1028.3,1367.1 L1028.3,1386.3 M1021.4,1369.8 L1035.2,1383.6 M1021.4,1383.6 L1035.2,1369.8" stroke="#000" stroke-width="2.8" fill="none"/><circle cx="1028.3" cy="1376.7" r="6.6" fill="#000"/>
<path d="M1075.4,1373.0 L1094.6,1373.0 M1085.0,1363.4 L1085.0,1382.6 M1078.1,1366.1 L1091.9,1379.9 M1078.1,1379.9 L1091.9,1366.1" stroke="#000" stroke-width="2.8" fill="none"/><circle cx="1085.0" cy="1373.0" r="6.6" fill="#000"/>
<path d="M1131.6,1365.5 L1150.8,1365.5 M1141.2,1355.9 L1141.2,1375.1 M1134.3,1358.6 L1148.1,1372.4 M1134.3,1372.4 L1148.1,1358.6" stroke="#000" stroke-width="2.8" fill="none"/><circle cx="1141.2" cy="1365.5" r="6.6" fill="#000"/>
<path d="M1187.3,1360.0 L1206.5,1360.0 M1196.9,1350.4 L1196.9,1369.6 M1190.0,1353.1 L1203.8,1366.9 M1190.0,1366.9 L1203.8,1353.1" stroke="#000" stroke-width="2.8" fill="none"/><circle cx="1196.9" cy="1360.0" r="6.6" fill="#000"/>
<path d="M1244.2,1357.0 L1263.4,1357.0 M1253.8,1347.4 L1253.8,1366.6 M1246.9,1350.1 L1260.7,1363.9 M1246.9,1363.9 L1260.7,1350.1" stroke="#000" stroke-width="2.8" fill="none"/><circle cx="1253.8" cy="1357.0" r="6.6" fill="#000"/>
<path d="M1300.4,1350.2 L1319.6,1350.2 M1310.0,1340.6 L1310.0,1359.8 M1303.1,1343.3 L1316.9,1357.1 M1303.1,1357.1 L1316.9,1343.3" stroke="#000" stroke-width="2.8" fill="none"/><circle cx="1310.0" cy="1350.2" r="6.6" fill="#000"/>
<path d="M1356.8,1344.9 L1376.0,1344.9 M1366.4,1335.3 L1366.4,1354.5 M1359.5,1338.0 L1373.3,1351.8 M1359.5,1351.8 L1373.3,1338.0" stroke="#000" stroke-width="2.8" fill="none"/><circle cx="1366.4" cy="1344.9" r="6.6" fill="#000"/>
<path d="M1414.0,1338.2 L1433.2,1338.2 M1423.6,1328.6 L1423.6,1347.8 M1416.7,1331.3 L1430.5,1345.1 M1416.7,1345.1 L1430.5,1331.3" stroke="#000" stroke-width="2.8" fill="none"/><circle cx="1423.6" cy="1338.2" r="6.6" fill="#000"/>
<path d="M1470.0,1332.6 L1489.2,1332.6 M1479.6,1323.0 L1479.6,1342.2 M1472.7,1325.7 L1486.5,1339.5 M1472.7,1339.5 L1486.5,1325.7" stroke="#000" stroke-width="2.8" fill="none"/><circle cx="1479.6" cy="1332.6" r="6.6" fill="#000"/>
<path d="M1526.9,1326.1 L1546.1,1326.1 M1536.5,1316.5 L1536.5,1335.7 M1529.6,1319.2 L1543.4,1333.0 M1529.6,1333.0 L1543.4,1319.2" stroke="#000" stroke-width="2.8" fill="none"/><circle cx="1536.5" cy="1326.1" r="6.6" fill="#000"/>
<path d="M1582.8,1318.9 L1602.0,1318.9 M1592.4,1309.3 L1592.4,1328.5 M1585.5,1312.0 L1599.3,1325.8 M1585.5,1325.8 L1599.3,1312.0" stroke="#000" stroke-width="2.8" fill="none"/><circle cx="1592.4" cy="1318.9" r="6.6" fill="#000"/>
<path d="M1640.0,1310.6 L1659.2,1310.6 M1649.6,1301.0 L1649.6,1320.2 M1642.7,1303.7 L1656.5,1317.5 M1642.7,1317.5 L1656.5,1303.7" stroke="#000" stroke-width="2.8" fill="none"/><circle cx="1649.6" cy="1310.6" r="6.6" fill="#000"/>
<path d="M1694.9,1302.3 L1714.1,1302.3 M1704.5,1292.7 L1704.5,1311.9 M1697.6,1295.4 L1711.4,1309.2 M1697.6,1309.2 L1711.4,1295.4" stroke="#000" stroke-width="2.8" fill="none"/><circle cx="1704.5" cy="1302.3" r="6.6" fill="#000"/>
<path d="M1752.8,1294.1 L1772.0,1294.1 M1762.4,1284.5 L1762.4,1303.7 M1755.5,1287.2 L1769.3,1301.0 M1755.5,1301.0 L1769.3,1287.2" stroke="#000" stroke-width="2.8" fill="none"/><circle cx="1762.4" cy="1294.1" r="6.6" fill="#000"/>
<path d="M1808.5,1285.8 L1827.7,1285.8 M1818.1,1276.2 L1818.1,1295.4 M1811.2,1278.9 L1825.0,1292.7 M1811.2,1292.7 L1825.0,1278.9" stroke="#000" stroke-width="2.8" fill="none"/><circle cx="1818.1" cy="1285.8" r="6.6" fill="#000"/>
<path d="M1865.7,1278.3 L1884.9,1278.3 M1875.3,1268.7 L1875.3,1287.9 M1868.4,1271.4 L1882.2,1285.2 M1868.4,1285.2 L1882.2,1271.4" stroke="#000" stroke-width="2.8" fill="none"/><circle cx="1875.3" cy="1278.3" r="6.6" fill="#000"/>
<circle cx="593.4" cy="1391.1" r="9.6" fill="none" stroke="#000" stroke-width="3.2"/>
<circle cx="612.0" cy="1390.2" r="9.6" fill="none" stroke="#000" stroke-width="3.2"/>
<circle cx="652.0" cy="1389.3" r="9.6" fill="none" stroke="#000" stroke-width="3.2"/>
<circle cx="700.3" cy="1386.5" r="9.6" fill="none" stroke="#000" stroke-width="3.2"/>
<circle cx="752.4" cy="1381.8" r="9.6" fill="none" stroke="#000" stroke-width="3.2"/>
<circle cx="805.3" cy="1377.2" r="9.6" fill="none" stroke="#000" stroke-width="3.2"/>
<circle cx="861.4" cy="1374.8" r="9.6" fill="none" stroke="#000" stroke-width="3.2"/>
<circle cx="917.2" cy="1370.2" r="9.6" fill="none" stroke="#000" stroke-width="3.2"/>
<circle cx="972.9" cy="1365.5" r="9.6" fill="none" stroke="#000" stroke-width="3.2"/>
<circle cx="1028.3" cy="1360.9" r="9.6" fill="none" stroke="#000" stroke-width="3.2"/>
<circle cx="1085.0" cy="1355.3" r="9.6" fill="none" stroke="#000" stroke-width="3.2"/>
<circle cx="1141.2" cy="1349.7" r="9.6" fill="none" stroke="#000" stroke-width="3.2"/>
<circle cx="1196.9" cy="1344.2" r="9.6" fill="none" stroke="#000" stroke-width="3.2"/>
<circle cx="1253.8" cy="1336.7" r="9.6" fill="none" stroke="#000" stroke-width="3.2"/>
<circle cx="1310.0" cy="1329.4" r="9.6" fill="none" stroke="#000" stroke-width="3.2"/>
<circle cx="1366.4" cy="1322.4" r="9.6" fill="none" stroke="#000" stroke-width="3.2"/>
<circle cx="1422.9" cy="1314.1" r="9.6" fill="none" stroke="#000" stroke-width="3.2"/>
<circle cx="1479.6" cy="1305.4" r="9.6" fill="none" stroke="#000" stroke-width="3.2"/>
<circle cx="1535.8" cy="1298.3" r="9.6" fill="none" stroke="#000" stroke-width="3.2"/>
<circle cx="1592.4" cy="1287.3" r="9.6" fill="none" stroke="#000" stroke-width="3.2"/>
<circle cx="1648.5" cy="1276.8" r="9.6" fill="none" stroke="#000" stroke-width="3.2"/>
<circle cx="1704.8" cy="1266.2" r="9.6" fill="none" stroke="#000" stroke-width="3.2"/>
<circle cx="1761.4" cy="1255.7" r="9.6" fill="none" stroke="#000" stroke-width="3.2"/>
<circle cx="1817.7" cy="1244.4" r="9.6" fill="none" stroke="#000" stroke-width="3.2"/>
<circle cx="1874.3" cy="1232.4" r="9.6" fill="none" stroke="#000" stroke-width="3.2"/>
</g>
<g transform="translate(3,2.6)"><rect x="294.5" y="67.4" width="1944.5" height="1367.1" fill="none" stroke="#cbcbcb" stroke-width="5.1"/><path d="M649.3,1432 V1413.5 M649.3,70 V88.5 M1002.7,1432 V1413.5 M1002.7,70 V88.5 M1356.0,1432 V1413.5 M1356.0,70 V88.5 M1709.4,1432 V1413.5 M1709.4,70 V88.5 M2062.7,1432 V1413.5 M2062.7,70 V88.5 M297,1206.8 H316.2 M2236.5,1206.8 H2217.8 M297,979.2 H316.2 M2236.5,979.2 H2217.8 M297,751.5 H316.2 M2236.5,751.5 H2217.8 M297,523.9 H316.2 M2236.5,523.9 H2217.8 M297,296.3 H316.2 M2236.5,296.3 H2217.8" stroke="#c4c4c4" stroke-width="4.9" fill="none"/></g>
<rect x="294.5" y="67.4" width="1944.5" height="1367.1" fill="none" stroke="#222222" stroke-width="5.1"/><path d="M649.3,1432 V1413.5 M649.3,70 V88.5 M1002.7,1432 V1413.5 M1002.7,70 V88.5 M1356.0,1432 V1413.5 M1356.0,70 V88.5 M1709.4,1432 V1413.5 M1709.4,70 V88.5 M2062.7,1432 V1413.5 M2062.7,70 V88.5 M297,1206.8 H316.2 M2236.5,1206.8 H2217.8 M297,979.2 H316.2 M2236.5,979.2 H2217.8 M297,751.5 H316.2 M2236.5,751.5 H2217.8 M297,523.9 H316.2 M2236.5,523.9 H2217.8 M297,296.3 H316.2 M2236.5,296.3 H2217.8" stroke="#222222" stroke-width="4.9" fill="none"/>
<text transform="translate(142.51,99.00) scale(0.9700,1)" font-family='"Liberation Sans", Arial, sans-serif' font-size="80" style="" fill="#262626" stroke="#ffffff" stroke-width="0.45">300</text>
<text transform="translate(140.71,326.90) scale(0.9700,1)" font-family='"Liberation Sans", Arial, sans-serif' font-size="80" style="" fill="#262626" stroke="#ffffff" stroke-width="0.45">250</text>
<text transform="translate(143.11,554.30) scale(0.9700,1)" font-family='"Liberation Sans", Arial, sans-serif' font-size="80" style="" fill="#262626" stroke="#ffffff" stroke-width="0.45">200</text>
<text transform="translate(143.01,784.10) scale(0.9700,1)" font-family='"Liberation Sans", Arial, sans-serif' font-size="80" style="" fill="#262626" stroke="#ffffff" stroke-width="0.45">150</text>
<text transform="translate(142.11,1011.20) scale(0.9700,1)" font-family='"Liberation Sans", Arial, sans-serif' font-size="80" style="" fill="#262626" stroke="#ffffff" stroke-width="0.45">100</text>
<text transform="translate(183.39,1239.00) scale(0.9700,1)" font-family='"Liberation Sans", Arial, sans-serif' font-size="80" style="" fill="#262626" stroke="#ffffff" stroke-width="0.45">50</text>
<text transform="translate(229.55,1467.00) scale(0.9700,1)" font-family='"Liberation Sans", Arial, sans-serif' font-size="80" style="" fill="#262626" stroke="#ffffff" stroke-width="0.45">0</text>
<text transform="translate(274.56,1539.70) scale(0.9500,1)" font-family='"Liberation Sans", Arial, sans-serif' font-size="82.5" style="" fill="#262626" stroke="#ffffff" stroke-width="0.45">0</text>
<text transform="translate(562.06,1539.70) scale(0.9500,1)" font-family='"Liberation Sans", Arial, sans-serif' font-size="82.5" style="" fill="#262626" stroke="#ffffff" stroke-width="0.45">2000</text>
<text transform="translate(916.58,1539.70) scale(0.9500,1)" font-family='"Liberation Sans", Arial, sans-serif' font-size="82.5" style="" fill="#262626" stroke="#ffffff" stroke-width="0.45">4000</text>
<text transform="translate(1268.74,1539.70) scale(0.9500,1)" font-family='"Liberation Sans", Arial, sans-serif' font-size="82.5" style="" fill="#262626" stroke="#ffffff" stroke-width="0.45">6000</text>
<text transform="translate(1622.47,1539.70) scale(0.9500,1)" font-family='"Liberation Sans", Arial, sans-serif' font-size="82.5" style="" fill="#262626" stroke="#ffffff" stroke-width="0.45">8000</text>
<text transform="translate(1954.69,1539.70) scale(0.9500,1)" font-family='"Liberation Sans", Arial, sans-serif' font-size="82.5" style="" fill="#262626" stroke="#ffffff" stroke-width="0.45">10000</text>
<rect x="1749.3" y="101.2" width="456.7" height="372.2" fill="#ffffff" stroke="#222222" stroke-width="5.2"/>
<path d="M1799.3,174.0 L1812.5,187.2 M1799.3,187.2 L1812.5,174.0" stroke="#000" stroke-width="3.25" fill="none"/>
<path d="M1796.2,270.5 L1815.8,270.5 M1806.0,260.7 L1806.0,280.3 M1798.9,263.4 L1813.1,277.6 M1798.9,277.6 L1813.1,263.4" stroke="#000" stroke-width="2.8" fill="none"/><circle cx="1806.0" cy="270.5" r="6.6" fill="#000"/>
<circle cx="1806.8" cy="361.8" r="10.2" fill="none" stroke="#000" stroke-width="3"/>
<text transform="translate(1862.20,209.80)" font-family='"Liberation Sans", Arial, sans-serif' font-size="72.5" style="" fill="#0a0a0a" >Left Turn</text>
<text transform="translate(1864.38,301.10)" font-family='"Liberation Sans", Arial, sans-serif' font-size="72.5" style="" fill="#0a0a0a" >Straight</text>
<text transform="translate(1862.20,391.00)" font-family='"Liberation Sans", Arial, sans-serif' font-size="72.5" style="" fill="#0a0a0a" >Right Turn</text>
<text transform="translate(1118.18,1613.00) scale(0.9400,1)" font-family='"Liberation Serif", "Times New Roman", serif' font-size="100" style="font-style:italic;" fill="#000" >ω</text>
<text transform="translate(1181.79,1631.00) scale(1.2200,1)" font-family='"Liberation Serif", "Times New Roman", serif' font-size="76" style="font-style:italic;" fill="#000" >m</text>
<text transform="translate(1306.94,1613.30) scale(1.1500,1)" font-family='"Liberation Serif", "Times New Roman", serif' font-size="86" style="" fill="#000" >(</text>
<text transform="translate(1340.08,1613.30)" font-family='"Liberation Serif", "Times New Roman", serif' font-size="86" style="" fill="#000" >r</text>
<text transform="translate(1372.58,1613.30)" font-family='"Liberation Serif", "Times New Roman", serif' font-size="86" style="" fill="#000" >p</text>
<text transform="translate(1418.88,1613.30)" font-family='"Liberation Serif", "Times New Roman", serif' font-size="86" style="" fill="#000" >m</text>
<text transform="translate(1484.96,1613.30) scale(1.1800,1)" font-family='"Liberation Serif", "Times New Roman", serif' font-size="86" style="" fill="#000" >)</text>
<g transform="rotate(-90)"><text transform="translate(-921.45,102.80) scale(0.9500,1)" font-family='"Liberation Serif", "Times New Roman", serif' font-size="97" style="font-style:italic;" fill="#000" >T</text>
<text transform="translate(-877.55,121.50) scale(1.2500,1)" font-family='"Liberation Serif", "Times New Roman", serif' font-size="75" style="font-style:italic;" fill="#000" >m</text>
<text transform="translate(-739.13,99.40) scale(1.2000,1)" font-family='"Liberation Serif", "Times New Roman", serif' font-size="86" style="" fill="#000" >(</text>
<text transform="translate(-703.88,99.40) scale(0.7200,1)" font-family='"Liberation Serif", "Times New Roman", serif' font-size="87" style="" fill="#000" >N</text>
<text transform="translate(-641.10,111.00)" font-family='"Liberation Serif", "Times New Roman", serif' font-size="110" style="" fill="#000" >·</text>
<text transform="translate(-590.29,99.40) scale(0.9800,1)" font-family='"Liberation Serif", "Times New Roman", serif' font-size="86" style="" fill="#000" >m</text>
<text transform="translate(-527.30,99.40) scale(1.2000,1)" font-family='"Liberation Serif", "Times New Roman", serif' font-size="86" style="" fill="#000" >)</text></g>
</svg>
</body></html>
